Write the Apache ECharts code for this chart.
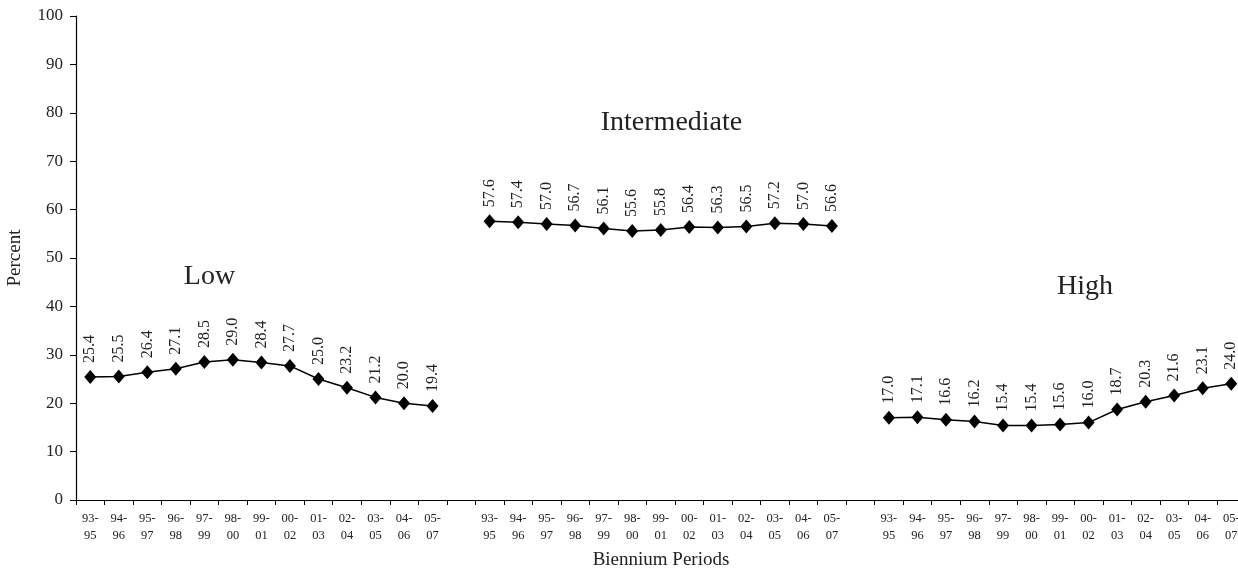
<!DOCTYPE html>
<html>
<head>
<meta charset="utf-8">
<script src="https://cdn.jsdelivr.net/npm/echarts@6/dist/echarts.min.js"></script>
<style>html,body{margin:0;padding:0;background:#fff;overflow:hidden;}#c{width:1246px;height:571px;}</style>
</head>
<body>
<div id="c"></div>
<script>
var periods = ['93-\n95','94-\n96','95-\n97','96-\n98','97-\n99','98-\n00','99-\n01','00-\n02','01-\n03','02-\n04','03-\n05','04-\n06','05-\n07'];
var lowVals = [25.4,25.5,26.4,27.1,28.5,29.0,28.4,27.7,25.0,23.2,21.2,20.0,19.4];
var midVals = [57.6,57.4,57.0,56.7,56.1,55.6,55.8,56.4,56.3,56.5,57.2,57.0,56.6];
var highVals = [17.0,17.1,16.6,16.2,15.4,15.4,15.6,16.0,18.7,20.3,21.6,23.1,24.0];
var groupNames = ['Low','Intermediate','High'];
var yTicks = {min:0, max:100, interval:10};

var cats = periods.concat(['']).concat(periods).concat(['']).concat(periods);
var vals = lowVals.concat([null]).concat(midVals).concat([null]).concat(highVals);

var FONT = '"Liberation Serif", "Times New Roman", serif';
var chart = echarts.init(document.getElementById('c'), null, {renderer:'canvas'});
chart.setOption({
  animation:false,
  backgroundColor:'#fff',
  grid:{left:76, top:16, right:0.5, bottom:71, containLabel:false},
  xAxis:{
    type:'category', data:cats, boundaryGap:true,
    axisLine:{lineStyle:{color:'#000', width:1.2}},
    axisTick:{show:true, interval:0, alignWithLabel:false, length:5, lineStyle:{color:'#000'}},
    axisLabel:{interval:0, margin:10, fontFamily:FONT, fontSize:12.5, color:'#222', lineHeight:17},
    splitLine:{show:false}
  },
  yAxis:{
    type:'value', min:yTicks.min, max:yTicks.max, interval:yTicks.interval,
    axisLine:{show:true, lineStyle:{color:'#000', width:1.2}},
    axisTick:{show:true, length:6, lineStyle:{color:'#000'}},
    axisLabel:{margin:13, fontFamily:FONT, fontSize:17, color:'#222'},
    splitLine:{show:false}
  },
  series:[{
    type:'line', data:vals, connectNulls:false,
    symbol:'diamond', symbolSize:[12,14],
    lineStyle:{color:'#000', width:1.5},
    itemStyle:{color:'#000'},
    label:{show:true, position:'top', distance:7, rotate:90, align:'left', verticalAlign:'middle',
      fontFamily:FONT, fontSize:16, color:'#222',
      formatter:function(p){return p.value==null?'':Number(p.value).toFixed(1);}}
  }],
  graphic:[
    {type:'text', x:209.5, y:277, style:{text:groupNames[0], font:'28px '+FONT, fill:'#222', textAlign:'center', textVerticalAlign:'middle'}},
    {type:'text', x:671.5, y:123, style:{text:groupNames[1], font:'28px '+FONT, fill:'#222', textAlign:'center', textVerticalAlign:'middle'}},
    {type:'text', x:1085, y:287, style:{text:groupNames[2], font:'28px '+FONT, fill:'#222', textAlign:'center', textVerticalAlign:'middle'}},
    {type:'text', x:15, y:258, rotation:Math.PI/2, style:{text:'Percent', font:'19px '+FONT, fill:'#222', textAlign:'center', textVerticalAlign:'middle'}},
    {type:'text', x:661, y:560, style:{text:'Biennium Periods', font:'19px '+FONT, fill:'#222', textAlign:'center', textVerticalAlign:'middle'}}
  ]
});
</script>
</body>
</html>
